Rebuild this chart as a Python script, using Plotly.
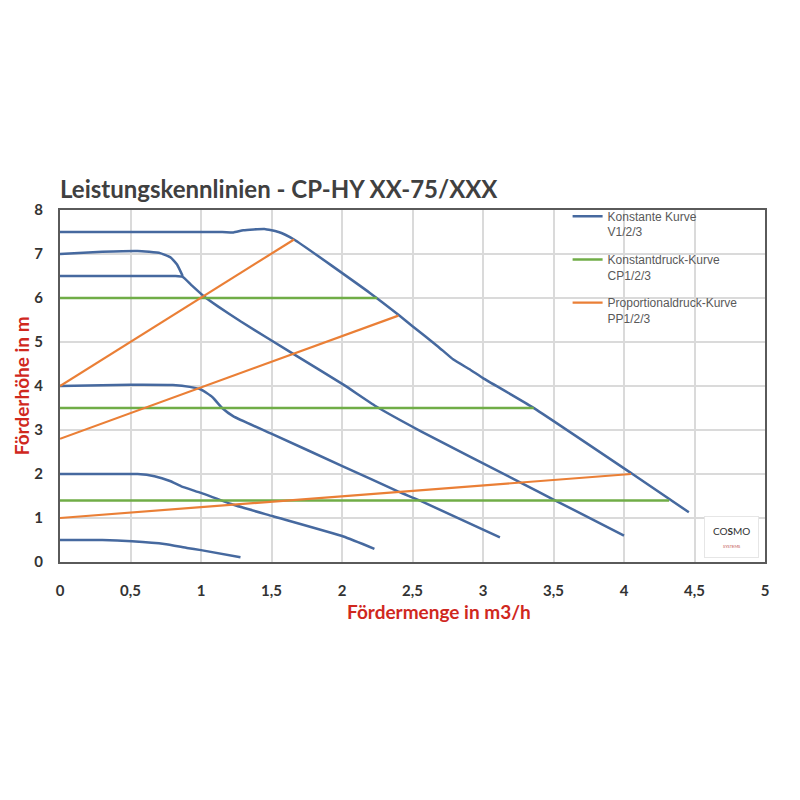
import plotly.graph_objects as go

# Konstante Kurve V1/2/3 (blue)
v_a_x = [0, 0.3, 0.51, 0.74, 0.9, 1.0, 1.28]
v_a_y = [0.5, 0.5, 0.47, 0.41, 0.32, 0.27, 0.11]

v_b_x = [0, 0.3, 0.55, 0.67, 0.78, 0.86, 1.0, 1.23, 1.51, 2.01, 2.23]
v_b_y = [2.0, 2.0, 2.0, 1.95, 1.84, 1.72, 1.57, 1.3, 1.04, 0.58, 0.3]

v_c_x = [0, 0.5, 0.8, 0.92, 1.0, 1.08, 1.15, 1.23, 1.51, 2.01, 2.4, 2.55, 3.12]
v_c_y = [4.0, 4.03, 4.02, 3.98, 3.92, 3.75, 3.5, 3.31, 2.9, 2.17, 1.6, 1.4, 0.56]

v_d_x = [0, 0.6, 0.82, 0.87, 0.93, 1.02, 1.12, 1.28, 1.66, 2.01, 2.24, 2.56, 3.27, 3.5, 4.0]
v_d_y = [6.5, 6.5, 6.5, 6.48, 6.3, 6.04, 5.81, 5.47, 4.72, 4.03, 3.54, 2.97, 1.8, 1.42, 0.6]

v_e_x = [0, 0.3, 0.55, 0.71, 0.785, 0.83, 0.87]
v_e_y = [7.0, 7.05, 7.07, 7.02, 6.92, 6.76, 6.5]

v_f_x = [0, 1.15, 1.23, 1.3, 1.45, 1.55, 1.66, 2.2, 2.4, 2.5, 2.68, 2.79, 2.91, 3.0, 3.35, 4.055, 4.46]
v_f_y = [7.5, 7.5, 7.49, 7.54, 7.57, 7.5, 7.33, 6.11, 5.62, 5.36, 4.9, 4.6, 4.37, 4.18, 3.52, 2.01, 1.13]

# Konstantdruck-Kurve CP1/2/3 (green)
cp_levels = [6.0, 3.5, 1.4]
cp_ends = [2.25, 3.36, 4.32]

# Proportionaldruck-Kurve PP1/2/3 (orange)
pp_x = [[0, 1.66], [0, 2.4], [0, 4.05]]
pp_y = [[4.0, 7.33], [2.8, 5.6], [1.0, 2.0]]

x_ticks = [0, 0.5, 1, 1.5, 2, 2.5, 3, 3.5, 4, 4.5, 5]
x_labels = ["0", "0,5", "1", "1,5", "2", "2,5", "3", "3,5", "4", "4,5", "5"]

BLUE = "#46699f"
GREEN = "#70ad47"
ORANGE = "#ea7f36"
RED = "#d0281e"

fig = go.Figure()

blue_curves = [(v_f_x, v_f_y), (v_e_x, v_e_y), (v_d_x, v_d_y),
               (v_c_x, v_c_y), (v_b_x, v_b_y), (v_a_x, v_a_y)]
for i, (xs, ys) in enumerate(blue_curves):
    fig.add_trace(go.Scatter(
        x=xs, y=ys, mode="lines", line=dict(color=BLUE, width=2.5, shape="spline", smoothing=0.4),
        name="Konstante Kurve<br>V1/2/3", legendgroup="v", showlegend=(i == 0)))

for i, (lvl, end) in enumerate(zip(cp_levels, cp_ends)):
    fig.add_trace(go.Scatter(
        x=[0, end], y=[lvl, lvl], mode="lines", line=dict(color=GREEN, width=2.5),
        name="Konstantdruck-Kurve<br>CP1/2/3", legendgroup="cp", showlegend=(i == 0)))

for i, (xs, ys) in enumerate(zip(pp_x, pp_y)):
    fig.add_trace(go.Scatter(
        x=xs, y=ys, mode="lines", line=dict(color=ORANGE, width=2.2),
        name="Proportionaldruck-Kurve<br>PP1/2/3", legendgroup="pp", showlegend=(i == 0)))

tick_font = dict(family="Lato", size=15, color="#333333", weight="bold")

fig.update_xaxes(
    range=[0, 5], tickvals=x_ticks, ticktext=x_labels, tickfont=tick_font,
    showgrid=True, gridcolor="#dadada", gridwidth=1.5, zeroline=False,
    showline=True, linecolor="#5a5a5a", linewidth=2, mirror=True,
    ticklabelstandoff=14)
fig.update_yaxes(
    range=[0, 8], dtick=1, tickfont=tick_font,
    showgrid=True, gridcolor="#dadada", gridwidth=1.5, zeroline=False,
    showline=True, linecolor="#5a5a5a", linewidth=2, mirror=True,
    ticklabelstandoff=12)

fig.add_annotation(text="Leistungskennlinien - CP-HY XX-75/XXX", xref="paper", yref="paper",
                   x=-0.003, y=1.06, xanchor="left", yanchor="middle", showarrow=False,
                   font=dict(family="Lato", size=24, color="#404040", weight="bold"))
fig.add_annotation(text="Fördermenge in m3/h", xref="paper", yref="paper",
                   x=0.5376, y=-0.142, xanchor="center", yanchor="middle", showarrow=False,
                   font=dict(family="Lato", size=19, color=RED, weight="bold"))
fig.add_annotation(text="Förderhöhe in m", xref="paper", yref="paper", textangle=-90,
                   x=-0.055, y=0.5, xanchor="center", yanchor="middle", showarrow=False,
                   font=dict(family="Lato", size=19, color=RED, weight="bold"))
fig.add_annotation(text="CO<b>S</b>MO<br><span style='font-size:4px;color:#c0504d'>SYSTEMS</span>",
                   xref="paper", yref="paper", x=0.952, y=0.07, xanchor="center", yanchor="middle",
                   showarrow=False, font=dict(family="Lato", size=10, color="#333333"),
                   bgcolor="white", bordercolor="#e6e6e6", borderwidth=1, borderpad=8)

fig.update_layout(
    width=800, height=800,
    margin=dict(l=52, r=43, t=202, b=246),
    plot_bgcolor="white", paper_bgcolor="white",
    legend=dict(x=0.72, y=1.023, xanchor="left", yanchor="top", valign="top",
                bgcolor="rgba(0,0,0,0)", tracegroupgap=9,
                font=dict(family="Liberation Sans", size=12, color="#595959")),
)

fig.write_html("out.html")
